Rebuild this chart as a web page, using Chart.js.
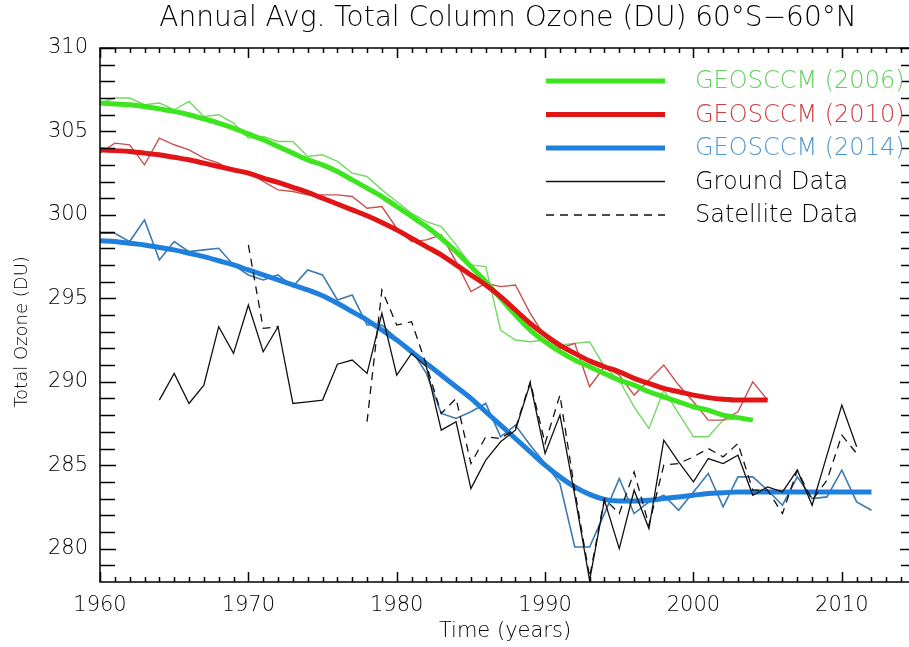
<!DOCTYPE html>
<html>
<head>
<meta charset="utf-8">
<script src="https://cdn.jsdelivr.net/npm/chart.js@4.4.1/dist/chart.umd.min.js"></script>
<style>
html, body { margin: 0; padding: 0; background: #fff; overflow: hidden; }
#wrap { position: relative; width: 917px; height: 647px; }
</style>
</head>
<body>
<div id="wrap"><canvas id="chart-1"></canvas></div>
<script>
// first year of every series
var start2006 = 1960;
var start2010 = 1960;
var start2014 = 1960;
var startGround = 1964;
var startSatellite = 1970;

// GEOSCCM runs, annual values (thin) and smoothed fits (thick)
var geos2006 = [306.7, 307.0, 307.0, 306.6, 306.7, 306.3, 306.8, 305.9, 306.0, 305.5,
    304.6, 304.7, 304.4, 304.4, 303.5, 303.6, 303.2, 302.5, 302.3, 301.5,
    300.8, 300.1, 299.6, 299.3, 298.2, 297.0, 296.9, 293.1, 292.5, 292.4,
    292.5, 292.2, 292.3, 292.4, 290.9, 290.1, 288.5, 287.2, 289.5, 288.1,
    286.7, 286.7, 287.7, 287.8, 287.7];
var fit2006 = [306.7, 306.65, 306.6, 306.5, 306.35, 306.2, 306.0, 305.75, 305.5, 305.2,
    304.85, 304.5, 304.1, 303.7, 303.3, 303.0, 302.6, 302.1, 301.6, 301.1,
    300.5, 299.9, 299.3, 298.6, 297.8, 296.9, 296.0, 295.0, 294.0, 293.1,
    292.4, 291.8, 291.3, 290.9, 290.5, 290.1, 289.8, 289.4, 289.1, 288.8,
    288.5, 288.3, 288.0, 287.85, 287.7];

var geos2010 = [303.7, 304.3, 304.2, 303.0, 304.6, 304.2, 303.9, 303.4, 303.1, 302.6,
    302.6, 302.0, 301.5, 301.4, 301.2, 301.2, 301.2, 301.1, 300.4, 300.5,
    299.2, 298.4, 298.5, 298.8, 297.2, 295.4, 295.9, 295.7, 295.8, 294.1,
    292.7, 292.0, 292.3, 289.7, 290.9, 290.4, 289.2, 290.1, 291.0, 289.8,
    288.8, 287.7, 287.7, 288.2, 290.0, 288.9];
var fit2010 = [303.9, 303.85, 303.8, 303.7, 303.6, 303.45, 303.3, 303.1, 302.9, 302.7,
    302.5, 302.2, 301.95, 301.65, 301.35, 301.0, 300.65, 300.3, 299.95, 299.55,
    299.1, 298.6, 298.1, 297.6, 297.0, 296.4, 295.8, 295.1, 294.3, 293.5,
    292.8, 292.2, 291.7, 291.25, 290.9, 290.6, 290.2, 289.9, 289.6, 289.4,
    289.2, 289.05, 288.95, 288.9, 288.9, 288.9];

var geos2014 = [298.9, 298.9, 298.4, 299.7, 297.3, 298.4, 297.8, 297.9, 298.0, 297.0,
    296.4, 296.1, 296.4, 295.7, 296.7, 296.4, 294.9, 295.2, 293.4, 293.4,
    292.6, 291.9, 290.5, 288.1, 287.8, 288.2, 288.7, 286.7, 287.4, 286.2,
    285.1, 283.9, 280.1, 280.1, 282.1, 284.2, 282.1, 282.8, 283.2, 282.3,
    283.4, 284.5, 282.5, 284.3, 284.3, 283.5, 282.6, 284.3, 283.0, 283.1,
    284.7, 282.8, 282.3];
var fit2014 = [298.45, 298.4, 298.3, 298.2, 298.05, 297.9, 297.7, 297.5, 297.25, 297.0,
    296.7, 296.4, 296.1, 295.8, 295.5, 295.15, 294.7, 294.2, 293.7, 293.1,
    292.5, 291.8, 291.1, 290.4, 289.7, 289.0, 288.2, 287.4, 286.6, 285.8,
    285.0, 284.3, 283.7, 283.25, 282.95, 282.85, 282.85, 282.9, 283.0, 283.1,
    283.2, 283.3, 283.35, 283.4, 283.4, 283.4, 283.4, 283.4, 283.4, 283.4,
    283.4, 283.4, 283.4];

// observations
var ground = [288.9, 290.5, 288.7, 289.8, 293.3, 291.7,
    294.6, 291.8, 293.3, 288.7, 288.8, 288.9, 291.05, 291.3, 290.5, 294.1,
    290.4, 291.7, 290.9, 287.1, 287.6, 283.6, 285.3, 286.4, 287.1, 289.9,
    285.7, 288.0, 283.2, 278.1, 282.9, 280.0, 283.5, 281.2, 286.5, 285.2,
    284.0, 285.4, 285.1, 285.6, 283.2, 283.7, 283.4, 284.7, 282.6, 285.6,
    288.6, 286.1];
var satellite = [298.2, 293.2, 293.3, null, null, null, null, null, 287.6, 295.5,
    293.4, 293.6, 291.0, 288.1, 289.0, 285.1, 286.7, 286.6, 287.2, 290.0,
    286.3, 289.2, 283.5, 278.3, 283.0, 282.1, 284.6, 281.4, 285.0, 285.1,
    285.5, 286.0, 285.5, 286.3, 283.5, 283.5, 282.1, 284.7, 282.9, 284.1,
    286.8, 285.7];

var xTickLabels = [1960, 1970, 1980, 1990, 2000, 2010];
var yTickLabels = [280, 285, 290, 295, 300, 305, 310];
var legendNames = ['GEOSCCM (2006)', 'GEOSCCM (2010)', 'GEOSCCM (2014)', 'Ground Data', 'Satellite Data'];

function toPoints(values, first) {
    return values.map((v, i) => ({ x: first + i, y: v }));
}

var textFont = '"DejaVu Sans", sans-serif';
Chart.defaults.font.family = textFont;
Chart.defaults.font.weight = '200';
Chart.defaults.color = '#000';

const ctx1 = document.getElementById('chart-1');

// IDL style frame: box on all sides, ticks pointing inward, titles and legend
const idlFrame = {
    id: 'idlFrame',
    afterDatasetsDraw(chart) {
        const c = chart.ctx;
        const a = chart.chartArea;
        const x = chart.scales.x;
        const y = chart.scales.y;
        c.save();
        c.strokeStyle = '#000';
        c.lineWidth = 1.5;
        c.strokeRect(a.left, a.top, a.right - a.left, a.bottom - a.top);
        c.beginPath();
        for (let yr = 1960; yr <= 2015; yr++) {
            const px = Math.round(x.getPixelForValue(yr)) + 0.5;
            const len = yr % 10 === 0 ? 10 : 5;
            c.moveTo(px, a.bottom); c.lineTo(px, a.bottom - len);
            c.moveTo(px, a.top); c.lineTo(px, a.top + len);
        }
        for (let v = 279; v <= 310; v++) {
            const py = Math.round(y.getPixelForValue(v)) + 0.5;
            const len = v % 5 === 0 ? 16 : 15;
            c.moveTo(a.left, py); c.lineTo(a.left + len, py);
            c.moveTo(a.right, py); c.lineTo(a.right - len, py);
        }
        c.stroke();

        // legend, top right inside the plot
        const items = chart.data.datasets.filter(ds => ds.legendText)
            .sort((p, q) => legendNames.indexOf(p.legendText) - legendNames.indexOf(q.legendText));
        items.forEach((ds, row) => {
            const ly = 81 + row * 33.5;
            c.beginPath();
            c.strokeStyle = ds.borderColor;
            c.lineWidth = ds.borderWidth;
            c.setLineDash(ds.borderDash || []);
            c.moveTo(546, ly); c.lineTo(665, ly);
            c.stroke();
            c.setLineDash([]);
            c.fillStyle = ds.legendColor;
            c.font = '200 24px ' + textFont;
            c.textBaseline = 'middle';
            c.textAlign = 'left';
            c.fillText(ds.legendText, 695, ly + 1);
        });

        // titles
        c.fillStyle = '#000';
        c.textAlign = 'center';
        c.textBaseline = 'middle';
        c.font = '200 28px ' + textFont;
        c.fillText('Annual Avg. Total Column Ozone (DU) 60°S\u221260°N', (a.left + a.right) / 2, 19);
        c.font = '200 21px ' + textFont;
        c.fillText('Time (years)', 505, 632);
        c.translate(22, 332);
        c.rotate(-Math.PI / 2);
        c.font = '200 18px ' + textFont;
        c.fillText('Total Ozone (DU)', 0, 0);
        c.restore();
    }
};

new Chart(ctx1, {
    type: 'line',
    data: {
        datasets: [
            {
                data: toPoints(ground, startGround),
                borderColor: '#111',
                borderWidth: 1.3,
                legendText: legendNames[3],
                legendColor: '#000',
                order: 0
            },
            {
                data: toPoints(satellite, startSatellite),
                borderColor: '#111',
                borderWidth: 1.3,
                borderDash: [8, 6],
                spanGaps: false,
                legendText: legendNames[4],
                legendColor: '#000',
                order: 1
            },
            {
                data: toPoints(fit2006, start2006),
                borderColor: '#3ce51e',
                borderWidth: 5,
                cubicInterpolationMode: 'monotone',
                legendText: legendNames[0],
                legendColor: '#5fcf5a',
                order: 4
            },
            {
                data: toPoints(fit2010, start2010),
                borderColor: '#e01616',
                borderWidth: 5,
                cubicInterpolationMode: 'monotone',
                legendText: legendNames[1],
                legendColor: '#cc3c3c',
                order: 3
            },
            {
                data: toPoints(fit2014, start2014),
                borderColor: '#1f7fdc',
                borderWidth: 5,
                cubicInterpolationMode: 'monotone',
                legendText: legendNames[2],
                legendColor: '#4f95d4',
                order: 2
            },
            {
                data: toPoints(geos2006, start2006),
                borderColor: '#74d862',
                borderWidth: 1.4,
                order: 7
            },
            {
                data: toPoints(geos2010, start2010),
                borderColor: '#c85050',
                borderWidth: 1.4,
                order: 6
            },
            {
                data: toPoints(geos2014, start2014),
                borderColor: '#3d79b0',
                borderWidth: 1.6,
                order: 5
            }
        ]
    },
    options: {
        responsive: true,
        maintainAspectRatio: false,
        animation: false,
        elements: {
            point: { radius: 0 },
            line: { tension: 0 }
        },
        layout: {
            padding: { top: 48, right: 1, left: 0, bottom: 0 }
        },
        scales: {
            x: {
                type: 'linear',
                min: 1960,
                max: 2015,
                afterBuildTicks: scale => { scale.ticks = xTickLabels.map(v => ({ value: v })); },
                afterFit: scale => { scale.height = 65; },
                grid: { display: false, drawTicks: false },
                border: { display: false },
                ticks: {
                    font: { size: 21 },
                    padding: 11,
                    maxRotation: 0,
                    autoSkip: false,
                    callback: v => String(v)
                }
            },
            y: {
                type: 'linear',
                min: 278,
                max: 310,
                afterBuildTicks: scale => { scale.ticks = yTickLabels.map(v => ({ value: v })); },
                afterFit: scale => { scale.width = 100; },
                grid: { display: false, drawTicks: false },
                border: { display: false },
                ticks: {
                    font: { size: 21 },
                    padding: 12,
                    autoSkip: false,
                    callback: v => String(v)
                }
            }
        },
        plugins: {
            legend: { display: false },
            title: { display: false },
            tooltip: { enabled: false }
        }
    },
    plugins: [idlFrame]
});
</script>
</body>
</html>
